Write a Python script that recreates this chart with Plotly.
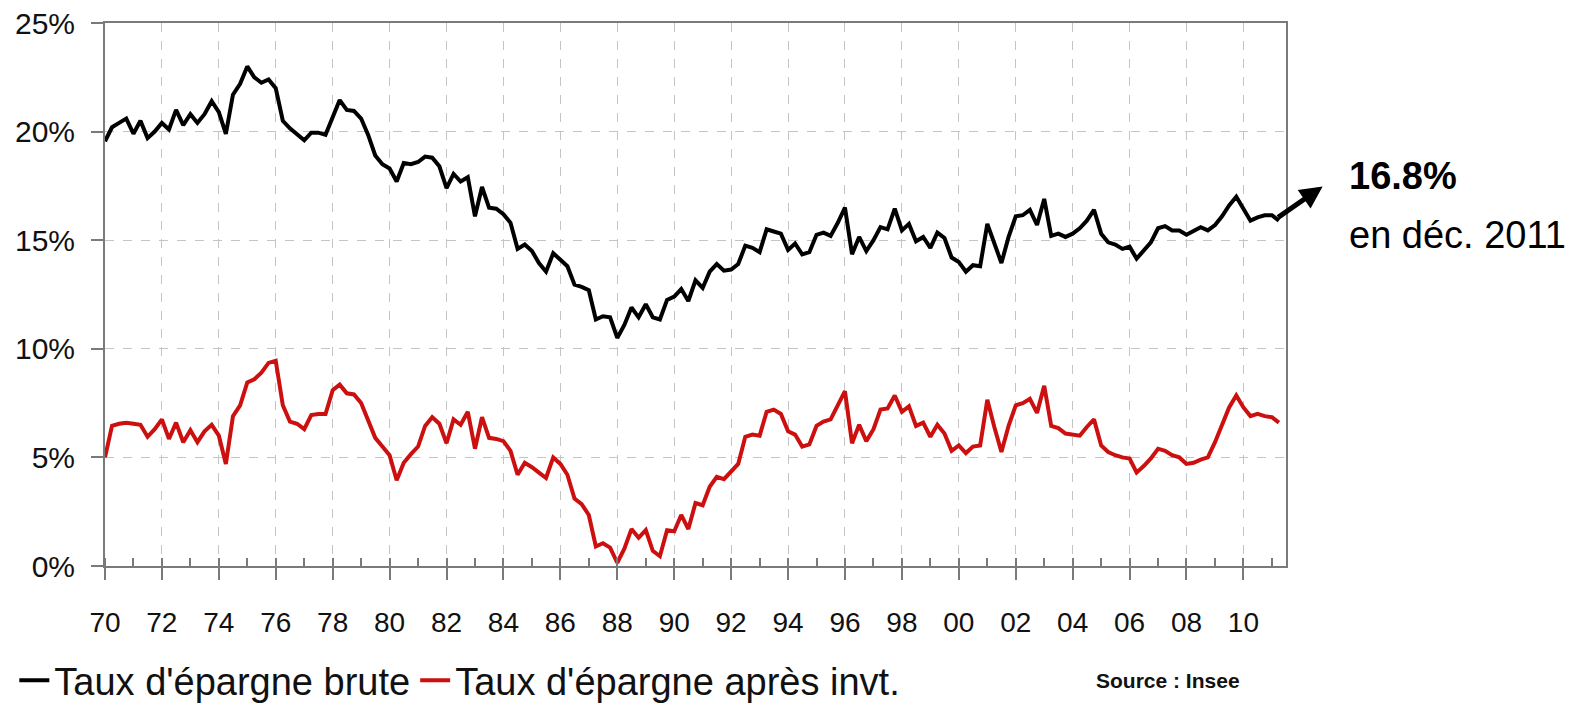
import pandas as pd
import plotly.graph_objects as go

# Taux d'épargne des ménages, données trimestrielles 1970 T1 -> 2011 T2 (en %)
epargne_brute = [
    19.55, 20.2, 20.4, 20.6, 19.9, 20.5, 19.7, 20.0,
    20.4, 20.1, 21.0, 20.3, 20.8, 20.4, 20.8, 21.4,
    20.9, 19.9, 21.7, 22.2, 23.0, 22.5, 22.25, 22.4,
    22.0, 20.5, 20.15, 19.9, 19.6, 19.95, 19.95, 19.85,
    20.7, 21.45, 21.0, 20.95, 20.6, 19.85, 18.9, 18.5,
    18.3, 17.7, 18.55, 18.5, 18.6, 18.85, 18.8, 18.4,
    17.4, 18.05, 17.7, 17.9, 16.1, 17.45, 16.5, 16.45,
    16.2, 15.8, 14.6, 14.8, 14.5, 13.95, 13.55, 14.4,
    14.1, 13.8, 12.95, 12.85, 12.7, 11.35, 11.5, 11.45,
    10.5, 11.1, 11.9, 11.45, 12.05, 11.45, 11.35, 12.25,
    12.4, 12.75, 12.2, 13.15, 12.8, 13.55, 13.9, 13.6,
    13.65, 13.9, 14.75, 14.65, 14.45, 15.5, 15.4, 15.3,
    14.55, 14.85, 14.35, 14.45, 15.25, 15.35, 15.2, 15.8,
    16.5, 14.35, 15.15, 14.5, 15.0, 15.6, 15.5, 16.45,
    15.45, 15.75, 14.95, 15.15, 14.65, 15.35, 15.1, 14.2,
    14.0, 13.55, 13.85, 13.8, 15.75, 14.85, 13.95, 15.15,
    16.1, 16.15, 16.4, 15.7, 16.9, 15.2, 15.3, 15.15,
    15.3, 15.55, 15.9, 16.4, 15.3, 14.9, 14.8, 14.6,
    14.7, 14.15, 14.5, 14.9, 15.55, 15.65, 15.45, 15.45,
    15.25, 15.45, 15.6, 15.45, 15.7, 16.1, 16.6, 17.0,
    16.4, 15.9, 16.05, 16.15, 16.15, 15.9,
]

epargne_apres_invt = [
    5.0, 6.45, 6.55, 6.6, 6.55, 6.5, 5.95, 6.3,
    6.75, 5.85, 6.6, 5.7, 6.25, 5.7, 6.2, 6.5,
    6.0, 4.7, 6.9, 7.4, 8.45, 8.6, 8.9, 9.35,
    9.45, 7.4, 6.65, 6.55, 6.3, 6.95, 7.0, 7.0,
    8.1, 8.35, 7.95, 7.9, 7.5, 6.7, 5.9, 5.5,
    5.1, 3.95, 4.75, 5.15, 5.5, 6.45, 6.85, 6.55,
    5.65, 6.75, 6.5, 7.1, 5.4, 6.85, 5.9, 5.85,
    5.75, 5.3, 4.2, 4.75, 4.55, 4.3, 4.05, 5.0,
    4.7, 4.2, 3.1, 2.85, 2.35, 0.9, 1.05, 0.85,
    0.15, 0.8, 1.7, 1.3, 1.65, 0.7, 0.45, 1.65,
    1.6, 2.35, 1.7, 2.9, 2.8, 3.65, 4.1, 4.0,
    4.35, 4.7, 5.95, 6.05, 6.0, 7.1, 7.2, 7.0,
    6.2, 6.05, 5.5, 5.6, 6.45, 6.65, 6.75, 7.4,
    8.05, 5.65, 6.5, 5.75, 6.3, 7.2, 7.25, 7.85,
    7.1, 7.35, 6.45, 6.6, 5.95, 6.5, 6.1, 5.3,
    5.55, 5.2, 5.5, 5.55, 7.65, 6.4, 5.25, 6.45,
    7.4, 7.5, 7.7, 7.05, 8.3, 6.45, 6.35, 6.1,
    6.05, 6.0, 6.4, 6.75, 5.55, 5.25, 5.1, 5.0,
    4.95, 4.3, 4.6, 4.95, 5.4, 5.3, 5.1, 5.0,
    4.7, 4.75, 4.9, 5.0, 5.7, 6.5, 7.3, 7.85,
    7.3, 6.9, 7.0, 6.9, 6.85, 6.6,
]

trimestres = pd.date_range("1970-01-01", periods=len(epargne_brute), freq="QS")

noms_series = ["Taux d'épargne brute", "Taux d'épargne après invt."]
couleurs = ["#000000", "#cc1010"]

POLICE = "Liberation Sans, Arial, sans-serif"
GRILLE = "#c4c4c4"
AXE = "#7a7a7a"

fig = go.Figure()

for nom, valeurs, couleur in zip(noms_series, [epargne_brute, epargne_apres_invt], couleurs):
    fig.add_trace(go.Scatter(
        x=trimestres,
        y=valeurs,
        mode="lines",
        name=nom,
        line=dict(color=couleur, width=4),
    ))

# la page html garde sa marge de 8 px : la figure fait donc 8 px de moins
fig.update_layout(
    width=1580,
    height=697,
    margin=dict(l=97, r=302, t=15, b=139, autoexpand=False),
    paper_bgcolor="white",
    plot_bgcolor="white",
    font=dict(family=POLICE, color="#111111"),
    showlegend=True,
    legend=dict(
        orientation="h",
        xref="container", yref="container",
        x=0.004, y=0.035,
        xanchor="left", yanchor="middle",
        font=dict(size=38, family=POLICE, color="#111111"),
        itemwidth=30,
        bgcolor="rgba(0,0,0,0)",
    ),
)

fig.update_xaxes(
    type="date",
    range=["1970-01-01", "2011-07-01"],
    tick0="1970-01-01",
    dtick="M24",
    tickformat="%y",
    ticks="outside",
    ticklen=12,
    tickwidth=1.5,
    tickcolor=AXE,
    ticklabelstandoff=18,
    ticklabeloverflow="allow",
    tickfont=dict(size=28, family=POLICE, color="#111111"),
    minor=dict(dtick="M12", ticks="inside", ticklen=8, tickwidth=1.5,
               tickcolor=AXE, showgrid=False),
    showgrid=True,
    gridcolor=GRILLE,
    griddash="dash",
    gridwidth=1,
    showline=True,
    linecolor=AXE,
    linewidth=2,
    mirror=True,
    zeroline=False,
    automargin=False,
)

fig.update_yaxes(
    range=[0, 25],
    dtick=5,
    ticksuffix="%",
    ticks="outside",
    ticklen=12,
    tickwidth=1.5,
    tickcolor=AXE,
    ticklabelstandoff=10,
    ticklabeloverflow="allow",
    tickfont=dict(size=30, family=POLICE, color="#111111"),
    showgrid=True,
    gridcolor=GRILLE,
    griddash="dash",
    gridwidth=1,
    showline=True,
    linecolor=AXE,
    linewidth=2,
    mirror=True,
    zeroline=False,
    automargin=False,
)

# Flèche et valeur de fin de période
fig.add_annotation(
    xref="paper", yref="paper",
    x=1.031, y=0.699,
    ax=-46, ay=32,
    text="",
    showarrow=True,
    arrowhead=2,
    arrowsize=0.9,
    arrowwidth=5,
    arrowcolor="#000000",
)
fig.add_annotation(
    xref="paper", yref="paper",
    x=1.052, y=0.718,
    xanchor="left", yanchor="middle",
    text="<b>16.8%</b>",
    showarrow=False,
    font=dict(size=38, family=POLICE, color="#000000"),
)
fig.add_annotation(
    xref="paper", yref="paper",
    x=1.052, y=0.609,
    xanchor="left", yanchor="middle",
    text="en déc. 2011",
    showarrow=False,
    font=dict(size=38, family=POLICE, color="#000000"),
)

fig.add_annotation(
    xref="paper", yref="paper",
    x=0.900, y=-0.2107,
    xanchor="center", yanchor="middle",
    text="<b>Source : Insee</b>",
    showarrow=False,
    font=dict(size=21, family=POLICE, color="#111111"),
)

fig.write_html("out.html")
